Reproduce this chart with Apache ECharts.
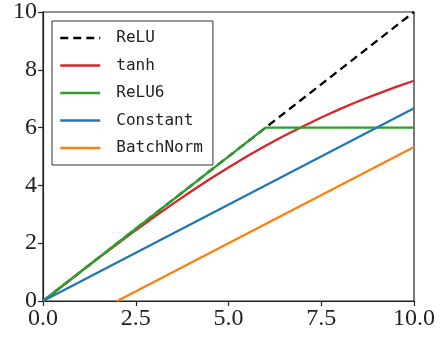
<!DOCTYPE html>
<html>
<head>
<meta charset="utf-8">
<script src="https://cdn.jsdelivr.net/npm/echarts@6/dist/echarts.min.js"></script>
<style>
  html, body { margin: 0; padding: 0; background: #fff; }
  #chart { width: 440px; height: 339px; }
</style>
</head>
<body>
<div id="chart"></div>
<script>
// Activation responses over the input range 0..10
const seriesNames = ['ReLU', 'tanh', 'ReLU6', 'Constant', 'BatchNorm'];

const reluX = [0, 10];
const reluY = [0, 10];

const tanhX = [0, 0.5, 1, 1.5, 2, 2.5, 3, 3.5, 4, 4.5, 5, 5.5, 6, 6.5, 7, 7.5, 8, 8.5, 9, 9.5, 10];
const tanhY = [0, 0.50, 1.00, 1.49, 1.97, 2.45, 2.91, 3.36, 3.80, 4.22, 4.62, 5.01, 5.37, 5.72, 6.04, 6.35, 6.64, 6.91, 7.16, 7.40, 7.62];

const relu6X = [0, 6, 10];
const relu6Y = [0, 6, 6];

const constantX = [0, 10];
const constantY = [0, 6.67];

const batchNormX = [2, 10];
const batchNormY = [0, 5.33];

const xTicks = [0, 2.5, 5, 7.5, 10];
const yTicks = [0, 2, 4, 6, 8, 10];

const colors = ['#000000', '#d62728', '#2ca02c', '#1f77b4', '#ff7f0e'];

function pairs(xs, ys) { return xs.map((x, i) => [x, ys[i]]); }

const chart = echarts.init(document.getElementById('chart'), null, { renderer: 'canvas' });

const tickFont = { fontFamily: 'Liberation Serif', fontSize: 24, color: '#222' };

// later series are drawn above earlier ones
function lineSeries(idx, data, dashed) {
  return {
    name: seriesNames[idx],
    type: 'line',
    data: data,
    symbol: 'none',
    z: 2 + idx,
    lineStyle: { color: colors[idx], width: 2.3, type: dashed ? [8, 5] : 'solid' },
    itemStyle: { color: colors[idx] },
    emphasis: { disabled: true },
    animation: false
  };
}

chart.setOption({
  animation: false,
  grid: { left: 43, right: 26, top: 12, bottom: 38, containLabel: false,
          show: true, borderColor: '#222', borderWidth: 1.2 },
  xAxis: {
    type: 'value', min: 0, max: 10, interval: 2.5,
    axisLine: { show: true, lineStyle: { color: '#222', width: 1.2 } },
    axisTick: { show: true, length: 5, lineStyle: { color: '#222', width: 1.2 } },
    splitLine: { show: false },
    axisLabel: Object.assign({ margin: 6, formatter: v => xTicks.includes(v) ? v.toFixed(1) : '' }, tickFont)
  },
  yAxis: {
    type: 'value', min: 0, max: 10, interval: 2,
    axisLine: { show: true, lineStyle: { color: '#222', width: 1.2 } },
    axisTick: { show: true, length: 5, lineStyle: { color: '#222', width: 1.2 } },
    splitLine: { show: false },
    axisLabel: Object.assign({ margin: 6, formatter: v => yTicks.includes(v) ? String(v) : '' }, tickFont)
  },
  legend: {
    orient: 'vertical',
    left: 52, top: 21,
    padding: [9, 10, 9, 7],
    itemWidth: 40, itemHeight: 14, itemGap: 11.5,
    borderColor: '#333', borderWidth: 1, backgroundColor: '#fff',
    itemStyle: { opacity: 0 },
    lineStyle: { width: 2.5 },
    textStyle: { fontFamily: 'DejaVu Sans Mono', fontSize: 16, color: '#222', padding: [0, 0, 0, 11] },
    data: seriesNames
  },
  series: [
    lineSeries(0, pairs(reluX, reluY), true),
    lineSeries(1, pairs(tanhX, tanhY), false),
    lineSeries(2, pairs(relu6X, relu6Y), false),
    lineSeries(3, pairs(constantX, constantY), false),
    lineSeries(4, pairs(batchNormX, batchNormY), false)
  ]
});
</script>
</body>
</html>
